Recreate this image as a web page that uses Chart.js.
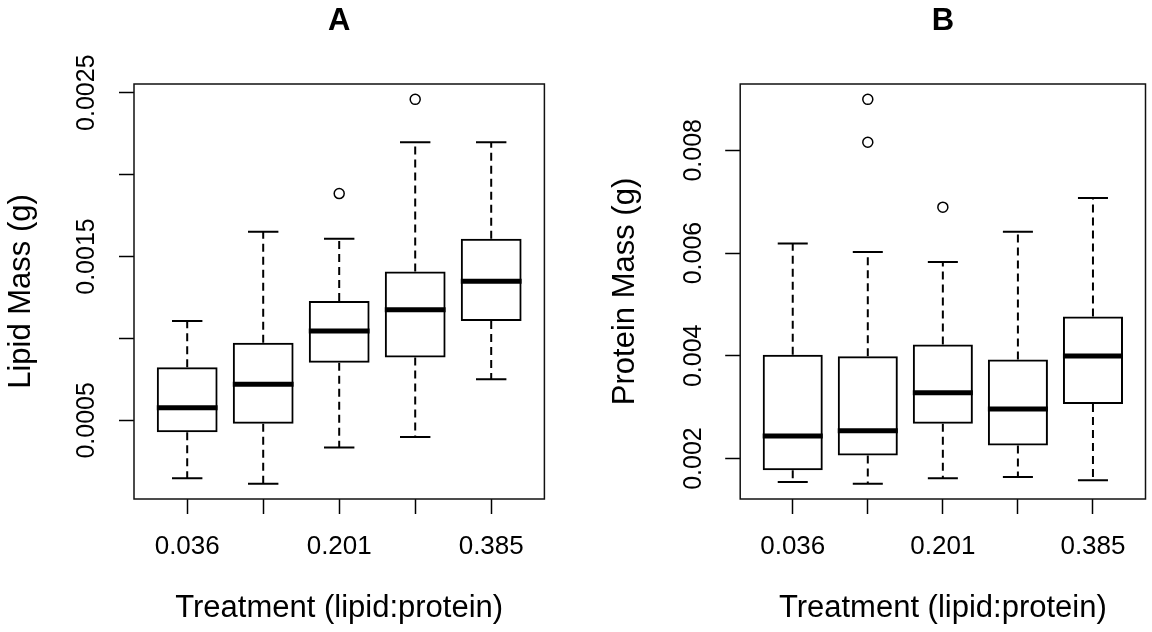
<!DOCTYPE html>
<html>
<head>
<meta charset="utf-8">
<script src="https://cdn.jsdelivr.net/npm/chart.js@4.4.1/dist/chart.umd.min.js"></script>
<style>
  html, body { margin: 0; padding: 0; background: #ffffff; }
  #wrap { position: relative; width: 1152px; height: 632px; overflow: hidden; background: #ffffff; }
  #wrap canvas { position: absolute; top: 0; }
</style>
</head>
<body>
<div id="wrap">
  <canvas id="panelA" width="576" height="632" style="left:0px;width:576px;height:632px"></canvas>
  <canvas id="panelB" width="576" height="632" style="left:576px;width:576px;height:632px"></canvas>
</div>
<script>
// ---------- data ----------
const groupPositions = [1, 2, 3, 4, 5];
const xTickLabels = ["0.036", "", "0.201", "", "0.385"];
const xAxisTitle = "Treatment (lipid:protein)";

// Panel A: lipid mass (g)
const lipidWhiskerLow  = [0.000147, 0.000114, 0.000335, 0.000398, 0.000751];
const lipidQ1          = [0.000428, 0.000479, 0.000851, 0.000883, 0.001106];
const lipidMedian      = [0.000577, 0.000720, 0.001045, 0.001175, 0.001349];
const lipidQ3          = [0.000824, 0.000973, 0.001229, 0.001408, 0.001608];
const lipidWhiskerHigh = [0.001106, 0.001651, 0.001608, 0.002198, 0.002198];
const lipidOutlierGroup = [3, 4];
const lipidOutlierValue = [0.001884, 0.002459];
const lipidTickValues = [0.0005, 0.0010, 0.0015, 0.0020, 0.0025];
const lipidTickLabels = ["0.0005", "", "0.0015", "", "0.0025"];

// Panel B: protein mass (g)
const proteinWhiskerLow  = [0.001543, 0.001512, 0.001615, 0.001641, 0.001576];
const proteinQ1          = [0.001771, 0.002059, 0.002676, 0.002254, 0.003061];
const proteinMedian      = [0.002441, 0.002539, 0.003281, 0.002963, 0.003998];
const proteinQ3          = [0.004023, 0.003992, 0.004219, 0.003926, 0.004766];
const proteinWhiskerHigh = [0.006186, 0.006023, 0.005828, 0.006414, 0.007070];
const proteinOutlierGroup = [2, 2, 3];
const proteinOutlierValue = [0.008992, 0.008158, 0.006894];
const proteinTickValues = [0.002, 0.004, 0.006, 0.008];
const proteinTickLabels = ["0.002", "0.004", "0.006", "0.008"];

// ---------- drawing ----------
const FONT = '"Liberation Sans", Arial, Helvetica, sans-serif';
const TICK_SIZE = 25;
const LAB_SIZE = 31;

function measure(str, size) {
  const c = document.createElement('canvas').getContext('2d');
  c.font = size + 'px ' + FONT;
  return c.measureText(str).width;
}

function boxPlugin(g) {
  return {
    id: 'boxWhiskers',
    afterDatasetsDraw(chart) {
      const ctx = chart.ctx;
      const ys = chart.scales.y;
      const meta = chart.getDatasetMeta(0);
      ctx.save();
      ctx.strokeStyle = '#000';
      meta.data.forEach((bar, i) => {
        const x = bar.x;
        const half = bar.width / 2;
        const cap = half / 2;
        const pLow = ys.getPixelForValue(g.low[i]);
        const pQ1 = ys.getPixelForValue(g.q1[i]);
        const pMed = ys.getPixelForValue(g.med[i]);
        const pQ3 = ys.getPixelForValue(g.q3[i]);
        const pHigh = ys.getPixelForValue(g.high[i]);
        // dashed whiskers
        ctx.lineWidth = 2;
        ctx.setLineDash([8, 5]);
        ctx.beginPath();
        ctx.moveTo(x, pQ3); ctx.lineTo(x, pHigh);
        ctx.moveTo(x, pQ1); ctx.lineTo(x, pLow);
        ctx.stroke();
        // caps
        ctx.setLineDash([]);
        ctx.beginPath();
        ctx.moveTo(x - cap, pHigh); ctx.lineTo(x + cap, pHigh);
        ctx.moveTo(x - cap, pLow); ctx.lineTo(x + cap, pLow);
        ctx.stroke();
        // median
        ctx.lineWidth = 5;
        ctx.beginPath();
        ctx.moveTo(x - half, pMed); ctx.lineTo(x + half, pMed);
        ctx.stroke();
      });
      // frame
      const a = chart.chartArea;
      ctx.lineWidth = 1.5;
      ctx.strokeStyle = '#111';
      ctx.strokeRect(a.left, a.top, a.right - a.left, a.bottom - a.top);
      ctx.restore();
    }
  };
}

function makePanel(id, g) {
  const allLow = Math.min(...g.low, ...g.outV);
  const allHigh = Math.max(...g.high, ...g.outV);
  const ext = (allHigh - allLow) * 0.04;
  const widest = Math.max(...g.tickLabels.map(s => measure(s, TICK_SIZE)));
  const yTickPadding = g.frameLeft - 15 - g.labelCenter - widest / 2;

  new Chart(document.getElementById(id), {
    type: 'bar',
    data: {
      datasets: [
        {
          type: 'bar',
          data: groupPositions.map((x, i) => ({ x: x, y: [g.q1[i], g.q3[i]] })),
          backgroundColor: 'rgba(255,255,255,0)',
          borderColor: '#000',
          borderWidth: 2,
          borderSkipped: false,
          barPercentage: 0.8,
          categoryPercentage: 1
        },
        {
          type: 'scatter',
          data: g.outG.map((x, i) => ({ x: x, y: g.outV[i] })),
          pointStyle: 'circle',
          pointRadius: 5,
          pointBorderWidth: 1.5,
          pointBorderColor: '#000',
          pointBackgroundColor: 'rgba(255,255,255,0)'
        }
      ]
    },
    options: {
      responsive: false,
      maintainAspectRatio: false,
      animation: false,
      devicePixelRatio: 1,
      events: [],
      layout: { padding: { left: 0, right: g.padRight, top: 0, bottom: 0 } },
      plugins: {
        legend: { display: false },
        tooltip: { enabled: false },
        title: {
          display: true,
          text: g.title,
          fullSize: false,
          color: '#000',
          font: { family: FONT, size: LAB_SIZE, weight: 'bold', lineHeight: 1.2 },
          padding: { top: 3, bottom: 43.8 }
        }
      },
      scales: {
        x: {
          type: 'linear',
          position: 'bottom',
          offset: false,
          min: 0.3,
          max: 5.7,
          bounds: 'data',
          afterBuildTicks: s => { s.ticks = groupPositions.map(v => ({ value: v })); },
          afterFit: s => { s.height = 133; },
          ticks: {
            callback: (v, i) => xTickLabels[i],
            autoSkip: false,
            maxRotation: 0,
            minRotation: 0,
            padding: 17,
            color: '#000',
            font: { family: FONT, size: 26, lineHeight: 1.2 }
          },
          grid: { display: true, offset: false, drawOnChartArea: false, drawTicks: true, tickLength: 15, tickColor: '#000', tickWidth: 1.5 },
          border: { display: false },
          title: {
            display: true,
            text: xAxisTitle,
            color: '#000',
            font: { family: FONT, size: LAB_SIZE, lineHeight: 1.2 },
            padding: { top: 0, bottom: 5 }
          }
        },
        y: {
          type: 'linear',
          position: 'left',
          min: allLow - ext,
          max: allHigh + ext,
          bounds: 'data',
          afterBuildTicks: s => { s.ticks = g.tickValues.map(v => ({ value: v })); },
          afterFit: s => { s.width = g.frameLeft; },
          ticks: {
            callback: (v, i) => g.tickLabels[i],
            autoSkip: false,
            minRotation: 90,
            maxRotation: 90,
            crossAlign: 'center',
            padding: yTickPadding,
            color: '#000',
            font: { family: FONT, size: TICK_SIZE, lineHeight: 1.2 }
          },
          grid: { display: true, drawOnChartArea: false, drawTicks: true, tickLength: 15, tickColor: '#000', tickWidth: 1.5 },
          border: { display: false },
          title: {
            display: true,
            text: g.yTitle,
            color: '#000',
            font: { family: FONT, size: LAB_SIZE, lineHeight: 1.2 },
            padding: { top: g.yTitlePad, bottom: 0 }
          }
        }
      }
    },
    plugins: [boxPlugin(g)]
  });
}

makePanel('panelA', {
  title: 'A', yTitle: 'Lipid Mass (g)',
  low: lipidWhiskerLow, q1: lipidQ1, med: lipidMedian, q3: lipidQ3, high: lipidWhiskerHigh,
  outG: lipidOutlierGroup, outV: lipidOutlierValue,
  tickValues: lipidTickValues, tickLabels: lipidTickLabels,
  frameLeft: 134, padRight: 31.6, labelCenter: 87, yTitlePad: 3
});

makePanel('panelB', {
  title: 'B', yTitle: 'Protein Mass (g)',
  low: proteinWhiskerLow, q1: proteinQ1, med: proteinMedian, q3: proteinQ3, high: proteinWhiskerHigh,
  outG: proteinOutlierGroup, outV: proteinOutlierValue,
  tickValues: proteinTickValues, tickLabels: proteinTickLabels,
  frameLeft: 164.2, padRight: 1.3, labelCenter: 118.5, yTitlePad: 31
});
</script>
</body>
</html>
